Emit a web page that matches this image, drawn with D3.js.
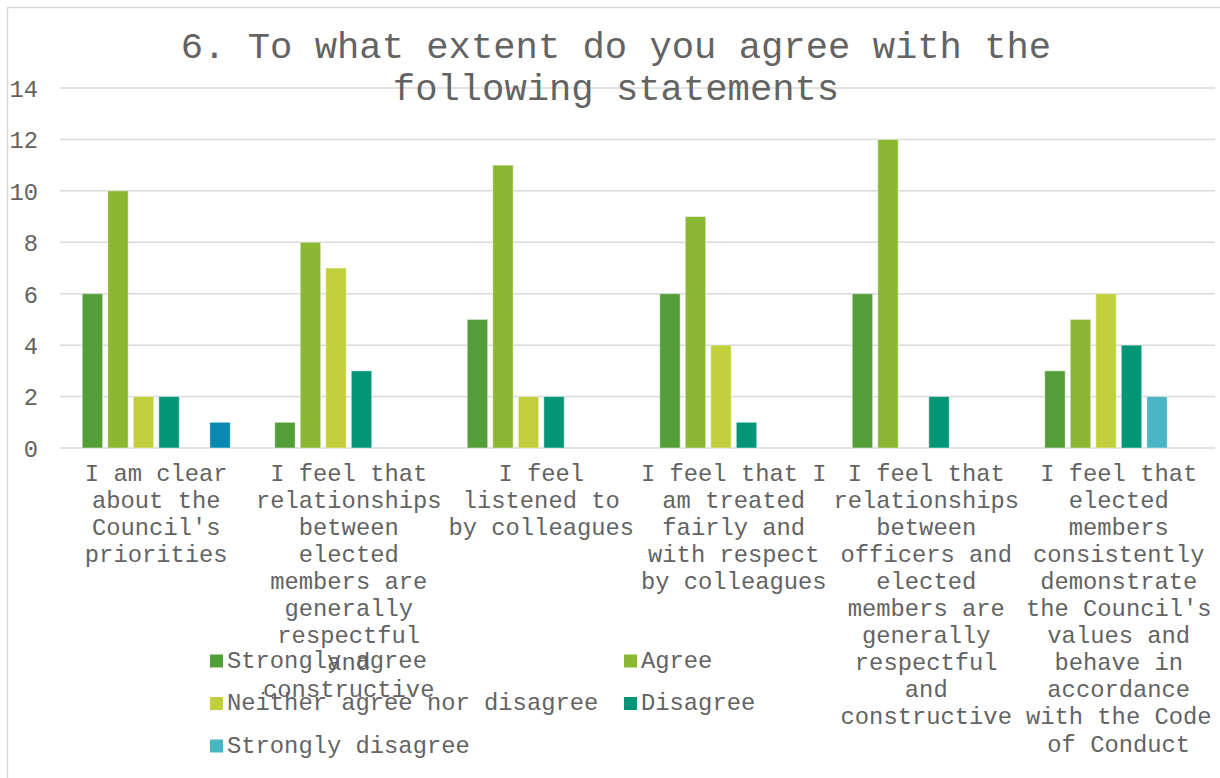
<!DOCTYPE html>
<html>
<head>
<meta charset="utf-8">
<script src="https://cdn.jsdelivr.net/npm/d3@7"></script>
<style>
  html, body { margin: 0; padding: 0; background: #fff; }
  svg { display: block; }
  text { font-family: "Courier New", "Liberation Mono", monospace; fill: #636363; }
</style>
</head>
<body>
<svg id="chart" width="1220" height="778"></svg>
<script>
// Survey question 6: counts of responses per statement
const categories = [
  ["I am clear", "about the", "Council's", "priorities"],
  ["I feel that", "relationships", "between", "elected", "members are", "generally", "respectful", "and", "constructive"],
  ["I feel", "listened to", "by colleagues"],
  ["I feel that I", "am treated", "fairly and", "with respect", "by colleagues"],
  ["I feel that", "relationships", "between", "officers and", "elected", "members are", "generally", "respectful", "and", "constructive"],
  ["I feel that", "elected", "members", "consistently", "demonstrate", "the Council's", "values and", "behave in", "accordance", "with the Code", "of Conduct"]
];
const seriesNames = ["Strongly agree", "Agree", "Neither agree nor disagree", "Disagree", "Strongly disagree", ""];
const stronglyAgree = [6, 1, 5, 6, 6, 3];
const agree         = [10, 8, 11, 9, 12, 5];
const neither       = [2, 7, 2, 4, 0, 6];
const disagree      = [2, 3, 2, 1, 2, 4];
const stronglyDis   = [0, 0, 0, 0, 0, 2];
const unlabelled    = [1, 0, 0, 0, 0, 0];
const seriesValues = [stronglyAgree, agree, neither, disagree, stronglyDis, unlabelled];
const seriesColors = ["#549E39", "#8AB833", "#C0CF3A", "#029676", "#4AB5C4", "#0989B1"];
const yTicks = [0, 2, 4, 6, 8, 10, 12, 14];
const titleLines = ["6. To what extent do you agree with the", "following statements"];

const svg = d3.select("#chart");
const catIdx = d3.range(categories.length);
const serIdx = d3.range(seriesNames.length);

// chart frame
svg.append("path")
  .attr("d", "M7.5,778 V7.5 H1220")
  .attr("fill", "none").attr("stroke", "#d9d9d9").attr("stroke-width", 1.5);

const plot = { left: 60, right: 1215, top: 88, bottom: 448 };

const x0 = d3.scaleBand().domain(catIdx).range([plot.left, plot.right]).padding(0);
const bw = x0.bandwidth();
const x1 = d3.scaleBand().domain(serIdx)
  .range([bw * 0.1023, bw * 0.8977]).paddingInner(0.2).paddingOuter(0.1);
const y = d3.scaleLinear().domain([0, 14]).range([plot.bottom, plot.top]);

// gridlines
svg.append("g").selectAll("line").data(yTicks).join("line")
  .attr("x1", plot.left).attr("x2", plot.right)
  .attr("y1", d => y(d)).attr("y2", d => y(d))
  .attr("stroke", "#d9d9d9").attr("stroke-width", 1.5);

// y axis labels
const yAxis = d3.axisLeft(y).tickValues(yTicks).tickSize(0).tickPadding(0);
const yg = svg.append("g").attr("transform", "translate(38,0)").call(yAxis);
yg.select(".domain").remove();
yg.selectAll("text").attr("font-size", 23.8).attr("font-family", null)
  .attr("fill", "#636363").attr("dy", "0.35em");

// title
svg.append("g").selectAll("text").data(titleLines).join("text")
  .attr("x", 616).attr("y", (d, i) => 48 + i * 42)
  .attr("text-anchor", "middle").attr("dominant-baseline", "central")
  .attr("font-size", 37.2).text(d => d);

// bars
const groups = svg.append("g").selectAll("g").data(catIdx).join("g")
  .attr("transform", c => `translate(${x0(c)},0)`);
groups.selectAll("rect")
  .data(c => serIdx.map(s => ({ s, v: seriesValues[s][c] })).filter(d => d.v > 0))
  .join("rect")
  .attr("x", d => x1(d.s))
  .attr("width", x1.bandwidth())
  .attr("y", d => y(d.v))
  .attr("height", d => y(0) - y(d.v))
  .attr("fill", d => seriesColors[d.s])
  .attr("stroke", "rgba(255,255,255,0.45)").attr("stroke-width", 1);

// category labels
const lab = svg.append("g").selectAll("text").data(catIdx).join("text")
  .attr("text-anchor", "middle").attr("font-size", 23.8);
lab.selectAll("tspan").data(c => categories[c].map(t => ({ c, t }))).join("tspan")
  .attr("x", d => x0(d.c) + bw / 2)
  .attr("y", (d, i) => 474 + i * 27.1)
  .attr("dominant-baseline", "central")
  .text(d => d.t);

// legend
const legendItems = serIdx.filter(s => seriesNames[s] !== "");
const leg = svg.append("g").selectAll("g").data(legendItems).join("g")
  .attr("transform", (s, i) => `translate(${i % 2 === 0 ? 210 : 624},${661 + Math.floor(i / 2) * 42.5})`);
leg.append("rect").attr("x", 0).attr("y", -6.5).attr("width", 13).attr("height", 13)
  .attr("fill", s => seriesColors[s]);
leg.append("text").attr("x", 17).attr("y", 0).attr("dominant-baseline", "central")
  .attr("font-size", 23.8).text(s => seriesNames[s]);
</script>
</body>
</html>
